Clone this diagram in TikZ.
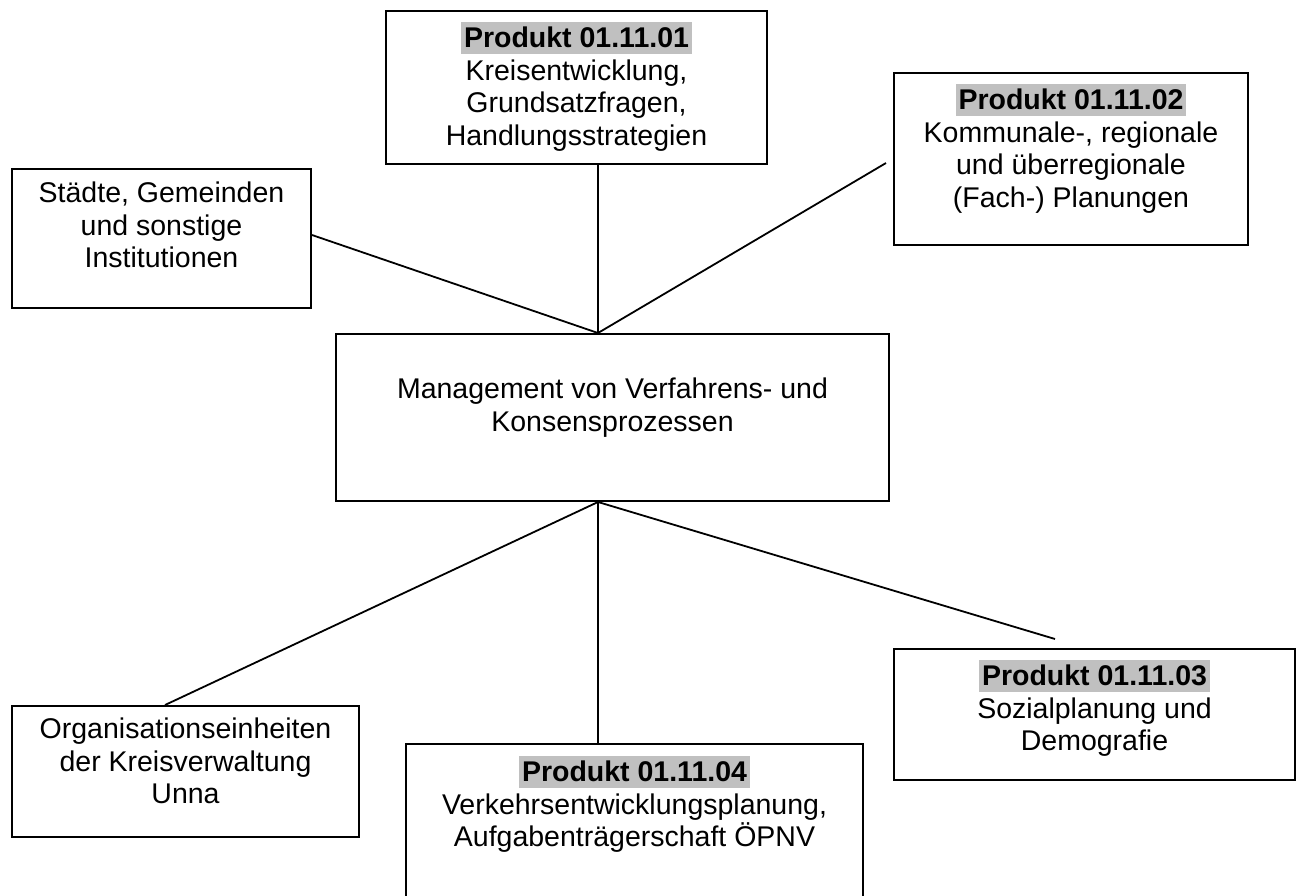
\documentclass[tikz,border=0pt]{standalone}
\usepackage{fontspec}
\setmainfont{Liberation Sans}
\usepackage{xcolor}
\usetikzlibrary{calc}
\definecolor{hlgray}{HTML}{C0C0C0}
\newcommand{\ls}{\rule[-0.212em]{0pt}{0.905em}}
\newcommand{\prodhl}[1]{{\setlength{\fboxsep}{0pt}\colorbox{hlgray}{\rule[-0.212em]{0pt}{1.117em}\kern3pt\textbf{#1}\kern3pt}}}
\newcommand{\bt}[4]{\parbox[c][#2][t]{#1}{\vspace*{#3}\centering #4\par}}
\begin{document}
\begin{tikzpicture}[x=1pt,y=-1pt,
  bx/.style={draw, line width=2pt, anchor=north west, inner sep=0pt,
    font=\fontsize{28.5}{32.5}\selectfont},
  conn/.style={line width=1.8pt}]
\clip (0,0) rectangle (1300,895);
\fill[white] (0,0) rectangle (1300,895);
% boxes
\node[bx] (p1) at (385,10) {\bt{381pt}{153pt}{11pt}{\prodhl{Produkt 01.11.01}\\ \ls Kreisentwicklung,\\ \ls Grundsatzfragen,\\ \ls Handlungsstrategien}};
\node[bx] (p2) at (893,72) {\bt{354pt}{172pt}{11pt}{\prodhl{Produkt 01.11.02}\\ \ls Kommunale-, regionale\\ \ls und überregionale\\ \ls (Fach-) Planungen}};
\node[bx] (st) at (11,168) {\bt{299pt}{139pt}{13pt}{\ls Städte, Gemeinden\\ \ls und sonstige\\ \ls Institutionen}};
\node[bx] (mg) at (335,333) {\bt{553pt}{167pt}{44pt}{\ls Management von Verfahrens- und\\ \ls Konsensprozessen}};
\node[bx] (org) at (11,705) {\bt{347pt}{131pt}{12pt}{\ls Organisationseinheiten\\ \ls der Kreisverwaltung\\ \ls Unna}};
\node[bx] (p4) at (405,743) {\bt{457pt}{180pt}{12pt}{\prodhl{Produkt 01.11.04}\\ \ls Verkehrsentwicklungsplanung,\\ \ls Aufgabenträgerschaft ÖPNV}};
\node[bx] (p3) at (893,648) {\bt{401pt}{131pt}{11pt}{\prodhl{Produkt 01.11.03}\\ \ls Sozialplanung und\\ \ls Demografie}};
% connector points
\coordinate (hubT) at ($(mg.north west)+(263,0)$);
\coordinate (hubB) at ($(mg.south west)+(263,0)$);
\coordinate (p2end) at ($(p2.north west)+(-7,91)$);
\coordinate (p3end) at ($(p3.north west)+(162,-9)$);
% connectors
\draw[conn] ($(p1.south west)+(213,0)$) -- (hubT);
\draw[conn] ($(st.north east)+(0,67)$) -- (hubT);
\draw[conn] (p2end) -- (hubT);
\draw[conn] (hubB) -- ($(org.north west)+(154,0)$);
\draw[conn] (hubB) -- ($(p4.north west)+(193,0)$);
\draw[conn] (hubB) -- (p3end);
\end{tikzpicture}
\end{document}
